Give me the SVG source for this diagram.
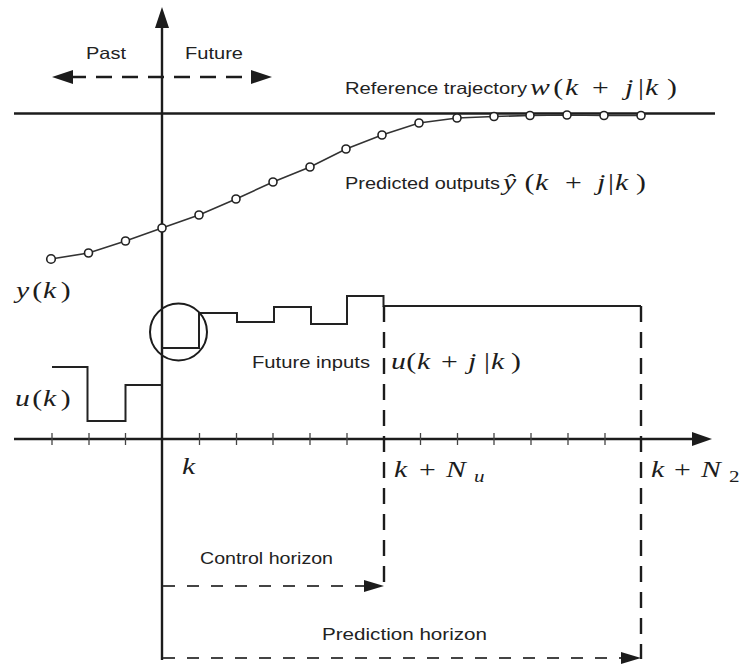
<svg xmlns="http://www.w3.org/2000/svg" width="742" height="664" viewBox="0 0 742 664">
<style>
.ax{stroke:#1c1c1c;stroke-width:2.4;fill:none}
.ln{stroke:#222;stroke-width:2;fill:none}
.cv{stroke:#333;stroke-width:1.6;fill:none}
.pt{fill:#fff;stroke:#222;stroke-width:1.6}
.ds{stroke:#1c1c1c;stroke-width:2.4;fill:none;stroke-dasharray:16 10}
.dh{stroke:#444;stroke-width:2;fill:none;stroke-dasharray:12 12}
.tk{stroke:#444;stroke-width:1.3}
.ah{fill:#1c1c1c}
.t{font-family:"Liberation Sans",Arial,sans-serif;font-size:16.5px;fill:#222}
.m{font-family:"Liberation Serif","Times New Roman",serif;font-size:24px;fill:#1c1c1c}
.i{font-style:italic}
.s{font-size:17px}
</style>
<rect width="742" height="664" fill="#fff"/>

<g id="axes">
<line class="ax" x1="14" y1="439" x2="696" y2="439"/>
<polygon class="ah" points="712,439 692,432 692,446"/>
<line class="ax" x1="162" y1="660" x2="162" y2="24"/>
<polygon class="ah" points="162,7 155,28 169,28"/>
<g id="ticks">
<line class="tk" x1="52" y1="433" x2="52" y2="445"/>
<line class="tk" x1="89" y1="433" x2="89" y2="445"/>
<line class="tk" x1="125.5" y1="433" x2="125.5" y2="445"/>
<line class="tk" x1="199.5" y1="433" x2="199.5" y2="445"/>
<line class="tk" x1="236.5" y1="433" x2="236.5" y2="445"/>
<line class="tk" x1="273" y1="433" x2="273" y2="445"/>
<line class="tk" x1="310" y1="433" x2="310" y2="445"/>
<line class="tk" x1="347" y1="433" x2="347" y2="445"/>
<line class="tk" x1="420.5" y1="433" x2="420.5" y2="445"/>
<line class="tk" x1="457.5" y1="433" x2="457.5" y2="445"/>
<line class="tk" x1="494" y1="433" x2="494" y2="445"/>
<line class="tk" x1="531" y1="433" x2="531" y2="445"/>
<line class="tk" x1="568" y1="433" x2="568" y2="445"/>
<line class="tk" x1="605" y1="433" x2="605" y2="445"/>
</g>
</g>

<g id="past-future">
<line class="ds" x1="70" y1="77" x2="254" y2="77" stroke-dasharray="17 12"/>
<polygon class="ah" points="52,77 73,70 73,84"/>
<polygon class="ah" points="272,77 251,70 251,84"/>
<text class="t" x="86" y="59" textLength="40" lengthAdjust="spacingAndGlyphs">Past</text>
<text class="t" x="185" y="59" textLength="58" lengthAdjust="spacingAndGlyphs">Future</text>
</g>

<g id="reference">
<line class="ax" x1="14" y1="113.5" x2="715" y2="113.5"/>
<text class="t" x="345" y="94" textLength="182" lengthAdjust="spacingAndGlyphs">Reference trajectory</text>
<text class="m" transform="scale(1.24 1)" y="95"><tspan class="i" x="427.4">w</tspan><tspan x="446.2">(</tspan><tspan class="i" x="455.6">k</tspan><tspan x="477.4">+</tspan><tspan class="i" x="504">j</tspan><tspan x="514.5">|</tspan><tspan class="i" x="520.2">k</tspan><tspan x="537.9">)</tspan></text>
</g>

<g id="predicted-outputs">
<polyline class="cv" points="51,259 88.5,253 125.5,241 162,228 199,215 236,199 273,182 310,167 346,149 382,135 419,123 457,118 494,116.5 530,115.5 567,115 604,115.5 641,115.5"/>
<circle class="pt" cx="51" cy="259" r="4.3"/>
<circle class="pt" cx="88.5" cy="253" r="4"/>
<circle class="pt" cx="125.5" cy="241" r="4"/>
<circle class="pt" cx="162" cy="228" r="4"/>
<circle class="pt" cx="199" cy="215" r="4"/>
<circle class="pt" cx="236" cy="199" r="4"/>
<circle class="pt" cx="273" cy="182" r="4"/>
<circle class="pt" cx="310" cy="167" r="4"/>
<circle class="pt" cx="346" cy="149" r="4"/>
<circle class="pt" cx="382" cy="135" r="4"/>
<circle class="pt" cx="419" cy="123" r="4"/>
<circle class="pt" cx="457" cy="118" r="4"/>
<circle class="pt" cx="494" cy="116.5" r="4"/>
<circle class="pt" cx="530" cy="115.5" r="4"/>
<circle class="pt" cx="567" cy="115" r="4"/>
<circle class="pt" cx="604" cy="115.5" r="4"/>
<circle class="pt" cx="641" cy="115.5" r="4"/>
<text class="t" x="345" y="189" textLength="155" lengthAdjust="spacingAndGlyphs">Predicted outputs</text>
<text class="m" transform="scale(1.24 1)" y="190"><tspan class="i" x="405.6">ŷ</tspan><tspan x="423">(</tspan><tspan class="i" x="431.5">k</tspan><tspan x="455.6">+</tspan><tspan class="i" x="481.5">j</tspan><tspan x="490.3">|</tspan><tspan class="i" x="496">k</tspan><tspan x="512.9">)</tspan></text>
<text class="m" transform="scale(1.24 1)" y="298"><tspan class="i" x="12.9">y</tspan><tspan x="26">(</tspan><tspan class="i" x="34.6">k</tspan><tspan x="49">)</tspan></text>
</g>

<g id="inputs">
<polyline class="ln" points="52,367 87.5,367 87.5,421 125.5,421 125.5,385 162,385"/>
<polyline class="ln" points="162,348 199,348 199,313 237,313 237,322 274,322 274,307 311,307 311,324 347,324 347,296 383.5,296 383.5,306 641,306"/>
<circle cx="178.5" cy="332" r="28.5" fill="none" stroke="#1c1c1c" stroke-width="2"/>
<text class="m" transform="scale(1.24 1)" y="406"><tspan class="i" x="12.1">u</tspan><tspan x="26">(</tspan><tspan class="i" x="34.6">k</tspan><tspan x="49">)</tspan></text>
<text class="t" x="252" y="368" textLength="118" lengthAdjust="spacingAndGlyphs">Future inputs</text>
<text class="m" transform="scale(1.24 1)" y="369"><tspan class="i" x="315.3">u</tspan><tspan x="327.6">(</tspan><tspan class="i" x="336.2">k</tspan><tspan x="355.6">+</tspan><tspan class="i" x="377.4">j</tspan><tspan x="390.3">|</tspan><tspan class="i" x="396">k</tspan><tspan x="412.1">)</tspan></text>
</g>

<g id="time-labels">
<text class="m i" transform="scale(1.24 1)" x="146.8" y="474">k</text>
<text class="m" transform="scale(1.24 1)" y="477"><tspan class="i" x="317.7">k</tspan><tspan x="337.9">+</tspan><tspan class="i" x="359.7">N</tspan><tspan class="i s" x="382.3" dy="5">u</tspan></text>
<text class="m" transform="scale(1.24 1)" y="477"><tspan class="i" x="525">k</tspan><tspan x="543.5">+</tspan><tspan class="i" x="565.3">N</tspan><tspan class="s" x="587.9" dy="5">2</tspan></text>
</g>

<g id="connectors">
<line class="ds" x1="384" y1="306" x2="384" y2="586"/>
<line class="ds" x1="641" y1="306" x2="641" y2="659"/>
<line class="dh" x1="163" y1="586" x2="368" y2="586"/>
<polygon class="ah" points="384,586 364,580 364,592"/>
<line class="dh" x1="163" y1="658" x2="625" y2="658"/>
<polygon class="ah" points="641,658 621,652 621,664"/>
</g>

<g id="horizon-labels">
<text class="t" x="200" y="564" textLength="133" lengthAdjust="spacingAndGlyphs">Control horizon</text>
<text class="t" x="322" y="640" textLength="165" lengthAdjust="spacingAndGlyphs">Prediction horizon</text>
</g>
</svg>
